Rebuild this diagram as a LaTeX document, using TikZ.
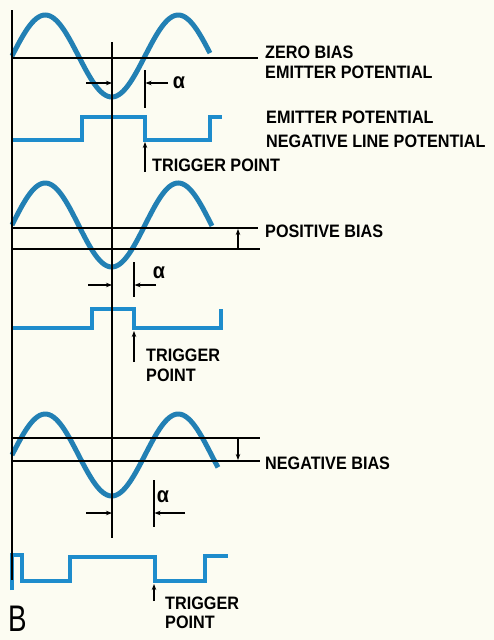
\documentclass[tikz,border=0pt]{standalone}
\usepackage{fontspec}
\newfontfamily\lab[FakeStretch=0.9]{Liberation Sans}
\newfontfamily\bfnt[FakeStretch=0.75]{Liberation Sans}
\usetikzlibrary{arrows.meta}
\definecolor{bg}{RGB}{252,252,242}
\definecolor{sinecol}{RGB}{34,128,180}
\definecolor{sqcol}{RGB}{30,140,204}
\tikzset{
  wave/.style={line width=5pt, draw=sinecol},
  sqwave/.style={line width=4.5pt, draw=sqcol, line join=miter},
  refl/.style={line width=1.3pt, draw=black},
  arr/.style={line width=1.1pt, draw=black, -{Stealth[length=6pt,width=4.5pt]}},
  lbl/.style={font=\lab\bfseries\fontsize{18}{20}\selectfont, anchor=base west, inner sep=0pt},
  alph/.style={font=\lab\bfseries\fontsize{22}{24}\selectfont, inner sep=0pt},
}
\begin{document}
\begin{tikzpicture}[x=1pt,y=-1pt]
\fill[bg] (0,0) rectangle (494,640);
\useasboundingbox (0,0) rectangle (494,640);

% ---------- waves ----------
\draw[wave] plot[domain=12:210, samples=90, smooth] (\x, {56 - 41*sin((\x-12)/133*360)});
\draw[wave] plot[domain=12:212, samples=90, smooth] (\x, {225 - 42*sin((\x-12)/133*360)});
\draw[wave] plot[domain=12:218, samples=90, smooth] (\x, {455 - 41*sin((\x-12)/133*360)});

\draw[sqwave] (12,140) -- (82,140) -- (82,117) -- (145,117) -- (145,140) -- (210,140) -- (210,117) -- (222,117);
\draw[sqwave] (12,328) -- (92,328) -- (92,309) -- (134,309) -- (134,328) -- (221,328) -- (221,309);
\draw[sqwave] (12,590) -- (12,555) -- (22,555) -- (22,581) -- (70,581) -- (70,557) -- (155,557) -- (155,581) -- (205,581) -- (205,556) -- (228,556);

% ---------- vertical reference lines ----------
\coordinate (L1) at (12,10);  \coordinate (L2) at (12,580);
\coordinate (C1) at (112,42); \coordinate (C2) at (112,538);
\draw[refl] (L1) -- (L2);
\draw[refl] (C1) -- (C2);

% ---------- panel 1 ----------
\coordinate (a1) at (12,58);  \coordinate (a2) at (258,58);
\draw[refl] (a1) -- (a2);
\coordinate (t1a) at (145,70); \coordinate (t1b) at (145,108);
\draw[refl] (t1a) -- (t1b);
\coordinate (p1l) at (86,83);  \coordinate (p1lt) at (112,83);
\coordinate (p1r) at (168,83); \coordinate (p1rt) at (145.5,83);
\draw[arr] (p1l) -- (p1lt);
\draw[arr] (p1r) -- (p1rt);
\node[alph] (al1) at (179,83) {α};
\coordinate (tr1a) at (145,172); \coordinate (tr1b) at (145,142);
\draw[arr] (tr1a) -- (tr1b);
\node[lbl] (trig1) at (152,171.5) {TRIGGER POINT};
\node[lbl] (zb) at (265,58.5) {ZERO BIAS};
\node[lbl] (ep1) at (265,78.5) {EMITTER POTENTIAL};
\node[lbl] (ep2) at (266,123.5) {EMITTER POTENTIAL};
\node[lbl] (nlp) at (266,147.5) {NEGATIVE LINE POTENTIAL};

% ---------- panel 2 ----------
\coordinate (b1) at (12,228); \coordinate (b2) at (258,228);
\coordinate (b3) at (12,249); \coordinate (b4) at (260,249);
\draw[refl] (b1) -- (b2);
\draw[refl] (b3) -- (b4);
\coordinate (pb1) at (238,249); \coordinate (pb2) at (238,229);
\draw[arr] (pb1) -- (pb2);
\node[lbl] (pos) at (265,237.5) {POSITIVE BIAS};
\coordinate (t2a) at (134,262); \coordinate (t2b) at (134,297);
\draw[refl] (t2a) -- (t2b);
\coordinate (p2l) at (88,285);  \coordinate (p2lt) at (112,285);
\coordinate (p2r) at (156,285); \coordinate (p2rt) at (134.5,285);
\draw[arr] (p2l) -- (p2lt);
\draw[arr] (p2r) -- (p2rt);
\node[alph] (al2) at (159,273) {α};
\coordinate (tr2a) at (134,362); \coordinate (tr2b) at (134,331);
\draw[arr] (tr2a) -- (tr2b);
\node[lbl] (trig2) at (146,361.5) {TRIGGER};
\node[lbl] (pt2) at (146,381.5) {POINT};

% ---------- panel 3 ----------
\coordinate (c1) at (12,438); \coordinate (c2) at (260,438);
\coordinate (c3) at (12,461); \coordinate (c4) at (260,461);
\draw[refl] (c1) -- (c2);
\draw[refl] (c3) -- (c4);
\coordinate (nb1) at (238,438); \coordinate (nb2) at (238,460);
\draw[arr] (nb1) -- (nb2);
\node[lbl] (neg) at (265,469.5) {NEGATIVE BIAS};
\coordinate (t3a) at (154,480); \coordinate (t3b) at (154,527);
\draw[refl] (t3a) -- (t3b);
\coordinate (p3l) at (86,513);  \coordinate (p3lt) at (112,513);
\coordinate (p3r) at (185,513); \coordinate (p3rt) at (154.5,513);
\draw[arr] (p3l) -- (p3lt);
\draw[arr] (p3r) -- (p3rt);
\node[alph] (al3) at (163,497) {α};
\coordinate (tr3a) at (154,601); \coordinate (tr3b) at (154,584);
\draw[arr] (tr3a) -- (tr3b);
\node[lbl] (trig3) at (165,609.5) {TRIGGER};
\node[lbl] (pt3) at (165,628.5) {POINT};

\node[font=\bfnt\fontsize{37}{37}\selectfont, anchor=base west, inner sep=0pt, text depth=0pt] (B) at (8,631) {B};
\end{tikzpicture}
\end{document}
